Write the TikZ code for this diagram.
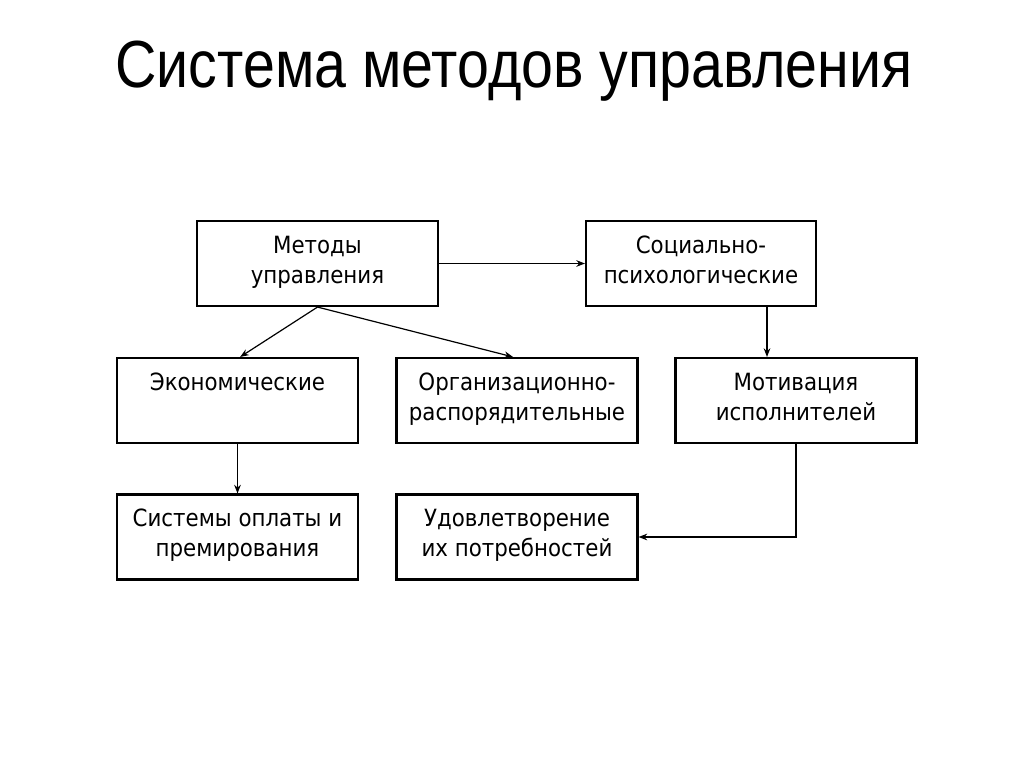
\documentclass[tikz,border=0pt]{standalone}
\usepackage{fontspec}
\setmainfont{DejaVu Sans Condensed}
\newfontfamily\titlefont[FakeStretch=0.86]{Liberation Sans}
\usetikzlibrary{arrows.meta}
\begin{document}
\begin{tikzpicture}[x=0.75pt,y=-0.75pt,
  box/.style={draw,line width=1.6pt,minimum width=180.75pt,minimum height=63.75pt,inner sep=0pt},
  btext/.style={anchor=north,align=center,inner sep=0pt,font=\fontsize{17.8pt}{22.5pt}\selectfont},
  arr/.style={line width=0.9pt,-{Stealth[length=6.5pt,width=5pt]}}]
\useasboundingbox (0,0) rectangle (1024,767);
\node[anchor=base,inner sep=0pt,font=\titlefont\fontsize{50pt}{60pt}\selectfont] (title) at (514,88) {Система методов управления};
\node[box] (m) at (317.5,263.5) {};
\node[box,minimum width=172.5pt] (s) at (701,263.5) {};
\node[box] (e) at (237.5,400.5) {};
\node[box] (o) at (517,400.5) {};
\node[box] (mo) at (796,400.5) {};
\node[box] (sy) at (237.5,537) {};
\node[box] (u) at (517,537) {};
\node[btext] (mt) at (317.5,236) {Методы\\управления};
\node[btext] (st) at (701,236) {Социально-\\психологические};
\node[btext] (et) at (237.5,373) {Экономические};
\node[btext] (ot) at (517,373) {Организационно-\\распорядительные};
\node[btext] (mot) at (796,373) {Мотивация\\исполнителей};
\node[btext] (syt) at (237.5,509) {Системы оплаты и\\премирования};
\node[btext] (ut) at (517,509) {Удовлетворение\\их потребностей};
\draw[arr] (m.east) -- (s.west);
\draw[arr] (m.south) -- ([xshift=2pt]e.north);
\draw[arr] (m.south) -- ([xshift=-3pt]o.north);
\draw[arr] ([xshift=49.5pt]s.south) -- ([xshift=49.5pt]s.south |- mo.north);
\draw[arr] (e.south) -- (sy.north);
\draw[arr] (mo.south) |- (u.east);
\end{tikzpicture}
\end{document}
